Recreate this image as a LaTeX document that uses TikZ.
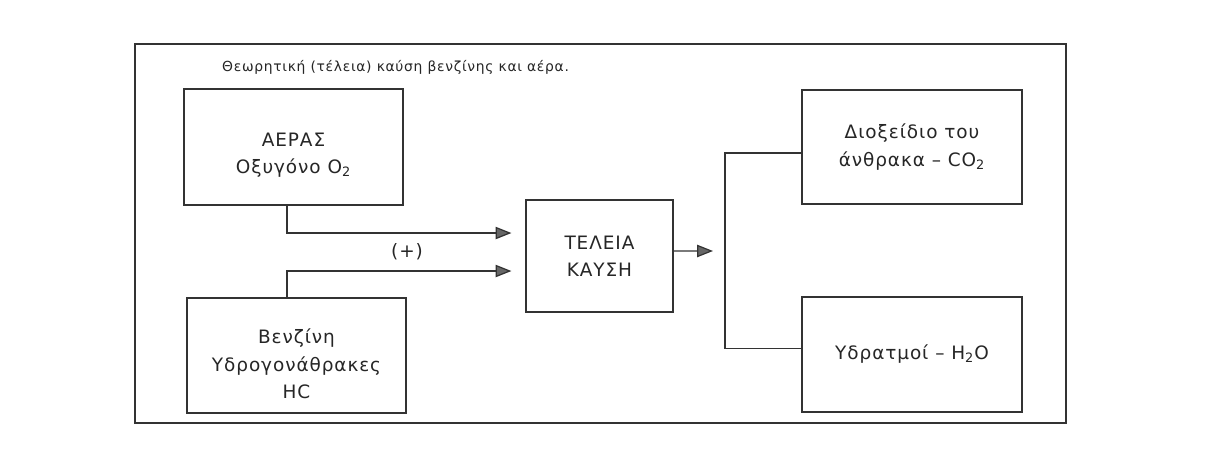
\documentclass[tikz,border=0pt]{standalone}
\usepackage{fontspec}
\setmainfont{DejaVu Sans}[LetterSpace=5]
\usetikzlibrary{arrows.meta}
\newcommand{\zak}[1]{\rule{0pt}{#1}}
\begin{document}
\begin{tikzpicture}[x=0.02cm, y=-0.02cm,
    box/.style={draw=black!80, line width=0.7pt, align=center, text=black!85,
      font=\fontsize{10.5}{15.5}\selectfont, inner sep=0pt},
    flow/.style={draw=black!80, line width=0.7pt,
      -{Triangle[length=9pt, width=7pt, fill=black!60]}},
    link/.style={draw=black!80, line width=0.7pt}]

  % Kader
  \useasboundingbox (0,0) rectangle (1225,454);
  \fill[white] (0,0) rectangle (1225,454);
  \draw[black!80, line width=0.7pt] (135,44) rectangle (1066,423);

  % Titel
  \node[anchor=west, text=black!85, font=\fontsize{7.9}{9}\selectfont] (titel) at (216,67)
    {Θεωρητική (τέλεια) καύση βενζίνης και αέρα.};

  % Aeras
  \node[box, minimum width=4.38cm, minimum height=2.32cm] (aeras) at (293.5,147)
    {\zak{17pt}ΑΕΡΑΣ\\Οξυγόνο O\textsubscript{2}};

  % Venzini
  \node[box, minimum width=4.38cm, minimum height=2.30cm] (venzini) at (296.5,355.5)
    {\zak{18pt}Βενζίνη\\Υδρογονάθρακες\\HC};

  % Teleia kausi
  \node[box, minimum width=2.94cm, minimum height=2.24cm] (kausi) at (599.5,256)
    {ΤΕΛΕΙΑ\\ΚΑΥΣΗ};

  % Dioxeidio
  \node[box, minimum width=4.40cm, minimum height=2.28cm] (dioxeidio) at (912,147)
    {Διοξείδιο του\\άνθρακα – CO\textsubscript{2}};

  % Ydratmoi
  \node[box, minimum width=4.40cm, minimum height=2.30cm] (ydratmoi) at (912,354.5)
    {Υδρατμοί – H\textsubscript{2}O};

  % Toevoer
  \draw[flow, shorten >=0.28cm]
    ([xshift=-0.13cm]aeras.south) |- ([yshift=0.46cm]kausi.west);
  \draw[flow, shorten >=0.28cm]
    ([xshift=-0.19cm]venzini.north) |- ([yshift=-0.30cm]kausi.west);
  \node[text=black!85, font=\fontsize{10.5}{12}\selectfont] (plus) at (407,252) {(+)};

  % Afvoer
  \coordinate (splits) at (725,251);
  \draw[flow, shorten >=0.24cm] ([yshift=0.1cm]kausi.east) -- (splits);
  \draw[link] ([yshift=-0.12cm]dioxeidio.west) -| (splits) |- ([yshift=0.12cm]ydratmoi.west);

\end{tikzpicture}
\end{document}
